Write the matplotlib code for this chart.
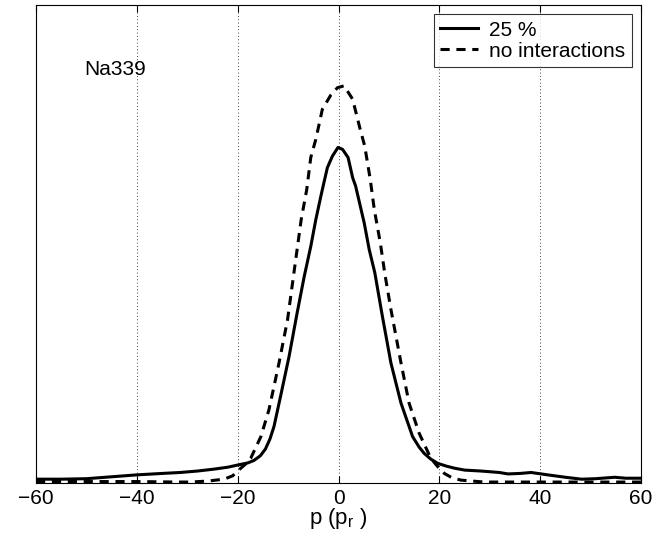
import numpy as np
import matplotlib.pyplot as plt

plt.rcParams['font.family'] = ['Liberation Sans', 'DejaVu Sans']

# momentum distribution (arbitrary units)
p_int = [-60, -55, -50, -45, -40, -35, -31.4, -28, -24.7, -22, -19.8, -18, -16.8, -15.5, -14.5,
         -13.6, -12.8, -11.5, -9.8, -8.2, -6.8, -5.5, -4.5, -3.5, -2.9, -2.2, -1.2, -0.1, 0.8,
         1.9, 2.8, 3.4, 5.1, 6.1, 7.2, 8.7, 10.4, 12.4, 14.7, 16.0, 17.0, 18.3, 19.7, 21.5,
         23.0, 25.0, 28.3, 31.9, 33.6, 36, 38.2, 41.5, 45, 48.2, 51, 54.8, 57, 60]
f_int = [0.008, 0.008, 0.009, 0.013, 0.017, 0.020, 0.022, 0.025, 0.029, 0.033, 0.038, 0.042,
         0.047, 0.057, 0.071, 0.092, 0.118, 0.181, 0.265, 0.356, 0.432, 0.495, 0.551, 0.600,
         0.628, 0.660, 0.684, 0.702, 0.698, 0.681, 0.639, 0.621, 0.544, 0.488, 0.440, 0.349,
         0.251, 0.167, 0.097, 0.075, 0.062, 0.050, 0.041, 0.035, 0.031, 0.027, 0.025, 0.022,
         0.019, 0.020, 0.022, 0.017, 0.012, 0.008, 0.009, 0.012, 0.010, 0.010]

p_free = [-60, -50, -40, -32, -29.4, -26, -22.7, -21, -19.8, -18.5, -17.4, -15.4, -13.8, -11.8,
          -10.1, -8.8, -7.4, -6.3, -5.5, -4.5, -3.2, -1.5, -0.2, 1.1, 2.8, 4.3, 5.2, 6.3, 7.1,
          8.3, 9.2, 10.4, 12.4, 14.0, 16.0, 18.3, 19.7, 21.0, 22.5, 24.3, 28.9, 35, 45, 60]
f_free = [0.003, 0.003, 0.003, 0.002, 0.002, 0.004, 0.008, 0.015, 0.027, 0.039, 0.052, 0.097,
          0.153, 0.251, 0.342, 0.443, 0.551, 0.614, 0.681, 0.719, 0.782, 0.812, 0.827, 0.831,
          0.803, 0.740, 0.705, 0.635, 0.572, 0.502, 0.437, 0.363, 0.251, 0.167, 0.104, 0.052,
          0.034, 0.020, 0.011, 0.006, 0.002, 0.002, 0.002, 0.002]

labels = ['25 %', 'no interactions']
xticks = [-60, -40, -20, 0, 20, 40, 60]

fig = plt.figure(figsize=(6.67, 5.35), dpi=100)
ax = fig.add_axes([36 / 667, 1 - 483 / 535, 605 / 667, 478 / 535])

ax.plot(p_int, f_int, 'k-', linewidth=2.2, label=labels[0])
ax.plot(p_free, f_free, 'k--', linewidth=2.2, dashes=(3, 2.2), label=labels[1])

ax.set_xlim(-60, 60)
ax.set_ylim(0, 1)
ax.set_xticks(xticks)
ax.set_yticks([])
ax.tick_params(axis='x', direction='in', top=True, labelsize=15, length=5, pad=4)
for x in xticks[1:-1]:
    ax.axvline(x, color='k', linestyle=(0, (1, 3)), linewidth=0.6, zorder=0)

ax.set_xlabel('p (p$_\\mathregular{r}$ )', fontsize=16, labelpad=-1)
ax.text(-50.5, 0.866, 'Na339', fontsize=15, ha='left', va='center')

leg = ax.legend(loc='upper right', fontsize=15, frameon=True, fancybox=False,
                edgecolor='k', handlelength=1.8, handletextpad=0.55, borderpad=0.3,
                labelspacing=0.1, borderaxespad=0.45)
leg.get_frame().set_linewidth(0.8)

fig.savefig('out.png', dpi=100)
